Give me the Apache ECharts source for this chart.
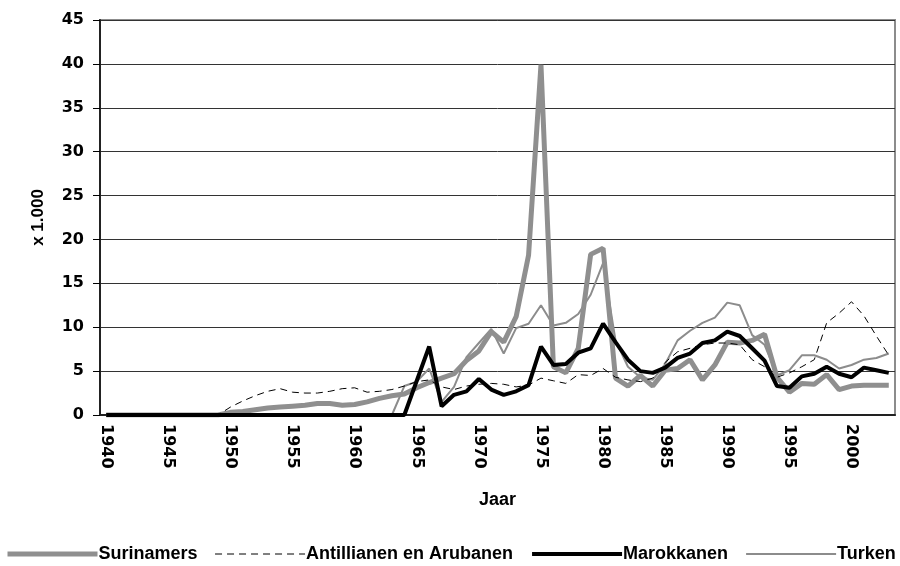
<!DOCTYPE html>
<html>
<head>
<meta charset="utf-8">
<script src="https://cdn.jsdelivr.net/npm/echarts@6/dist/echarts.min.js"></script>
<style>
  html, body { margin: 0; padding: 0; background: #fff; }
  #container { width: 900px; height: 566px; }
</style>
</head>
<body>
<div id="container"></div>
<script>
// jaren 1940 t/m 2003
const years = [];
for (let y = 1940; y <= 2003; y++) years.push(String(y));

// waarden x 1.000
const surinamers = [
  0, 0, 0, 0, 0, 0, 0, 0, 0, 0,
  0.3, 0.4, 0.6, 0.8, 0.9, 1.0, 1.1, 1.3, 1.3, 1.1,
  1.2, 1.5, 1.9, 2.2, 2.4, 3.1, 3.7, 4.2, 4.7, 6.2,
  7.3, 9.5, 8.3, 11.2, 18.2, 39.9, 5.5, 4.8, 7.6, 18.3,
  19.0, 4.2, 3.3, 4.5, 3.3, 5.1, 5.3, 6.3, 4.0, 5.7,
  8.3, 8.2, 8.5, 9.2, 4.3, 2.6, 3.6, 3.5, 4.6, 2.9,
  3.3, 3.4, 3.4, 3.4
];
const antillianen = [
  0, 0, 0, 0, 0, 0, 0, 0, 0, 0,
  0.9, 1.6, 2.2, 2.7, 3.0, 2.6, 2.5, 2.5, 2.7, 3.0,
  3.1, 2.6, 2.7, 2.9, 3.3, 3.8, 4.0, 3.2, 2.9, 3.3,
  3.5, 3.6, 3.5, 3.2, 3.4, 4.2, 3.9, 3.6, 4.6, 4.5,
  5.3, 4.3, 4.0, 3.8, 4.2, 6.0, 7.2, 7.6, 8.0, 8.2,
  8.2, 8.0, 6.3, 5.5, 4.3, 4.8, 5.5, 6.3, 10.5, 11.6,
  12.9, 11.3, 9.0, 6.8
];
const marokkanen = [
  0, 0, 0, 0, 0, 0, 0, 0, 0, 0,
  0, 0, 0, 0, 0, 0, 0, 0, 0, 0,
  0, 0, 0, 0, 0, 3.9, 7.8, 1.0, 2.3, 2.7,
  4.1, 2.9, 2.3, 2.7, 3.4, 7.8, 5.7, 5.8, 7.1, 7.6,
  10.4, 8.3, 6.3, 5.0, 4.8, 5.4, 6.5, 7.0, 8.2, 8.5,
  9.5, 9.0, 7.6, 6.2, 3.3, 3.1, 4.4, 4.7, 5.5, 4.7,
  4.3, 5.4, 5.1, 4.8
];
const turken = [
  0, 0, 0, 0, 0, 0, 0, 0, 0, 0,
  0, 0, 0, 0, 0, 0, 0, 0, 0, 0,
  0, 0, 0, 0, 3.3, 3.8, 5.3, 1.5, 3.2, 6.6,
  8.2, 9.8, 7.0, 9.9, 10.4, 12.5, 10.2, 10.5, 11.5, 13.7,
  17.3, 8.5, 5.5, 4.3, 4.0, 5.8, 8.5, 9.6, 10.5, 11.1,
  12.8, 12.5, 9.1, 8.0, 4.5, 5.1, 6.8, 6.8, 6.3, 5.3,
  5.7, 6.3, 6.5, 7.0
];

const font = "'Liberation Sans', Arial, sans-serif";
const numFont = "'DejaVu Sans', sans-serif";

const chart = echarts.init(document.getElementById("container"));

const option = {
  animation: false,
  textStyle: { fontFamily: font },
  grid: {
    left: 100,
    right: 5,
    top: 20,
    bottom: 151,
    show: true,
    borderColor: "#8c8c8c",
    borderWidth: 2
  },
  legend: {
    top: 540,
    left: 0,
    itemWidth: 90,
    itemHeight: 16,
    itemGap: 17,
    data: ["Surinamers", "Antillianen en Arubanen", "Marokkanen", "Turken"],
    itemStyle: { opacity: 0 },
    lineStyle: { width: "inherit" },
    textStyle: {
      fontFamily: font,
      fontSize: 18,
      fontWeight: "bold",
      color: "#000",
      padding: [0, 0, 0, -4]
    }
  },
  xAxis: {
    type: "category",
    data: years,
    boundaryGap: true,
    name: "Jaar",
    nameLocation: "middle",
    nameGap: 76,
    nameTextStyle: { fontSize: 18, fontWeight: "bold", color: "#000" },
    axisLine: { lineStyle: { color: "#222", width: 2 } },
    axisTick: {
      inside: true,
      interval: 0,
      length: 5,
      lineStyle: { color: "#000", width: 1 }
    },
    axisLabel: {
      interval: 4,
      rotate: -90,
      margin: 9,
      fontFamily: numFont,
      fontSize: 16,
      fontWeight: "bold",
      color: "#000"
    },
    splitLine: { show: false }
  },
  yAxis: {
    type: "value",
    min: 0,
    max: 45,
    interval: 5,
    name: "x 1.000",
    nameLocation: "middle",
    nameGap: 53,
    nameRotate: 90,
    nameTextStyle: { fontSize: 17, fontWeight: "bold", color: "#000" },
    axisLine: { show: true, lineStyle: { color: "#222", width: 2 } },
    axisTick: { show: true, length: 7, lineStyle: { color: "#000" } },
    axisLabel: {
      margin: 16,
      fontFamily: numFont,
      fontSize: 16,
      fontWeight: "bold",
      color: "#000"
    },
    splitLine: { lineStyle: { color: "#333", width: 1 } }
  },
  series: [
    {
      name: "Surinamers",
      type: "line",
      data: surinamers,
      symbol: "none",
      z: 3,
      lineStyle: { color: "#8f8f8f", width: 5 },
      itemStyle: { color: "#8f8f8f" }
    },
    {
      name: "Antillianen en Arubanen",
      type: "line",
      data: antillianen,
      symbol: "none",
      z: 4,
      lineStyle: { color: "#000", width: 1, type: [7, 5] },
      itemStyle: { color: "#000" }
    },
    {
      name: "Marokkanen",
      type: "line",
      data: marokkanen,
      symbol: "none",
      z: 5,
      lineStyle: { color: "#000", width: 4 },
      itemStyle: { color: "#000" }
    },
    {
      name: "Turken",
      type: "line",
      data: turken,
      symbol: "none",
      z: 2,
      lineStyle: { color: "#8c8c8c", width: 2 },
      itemStyle: { color: "#8c8c8c" }
    }
  ]
};

chart.setOption(option);
</script>
</body>
</html>
